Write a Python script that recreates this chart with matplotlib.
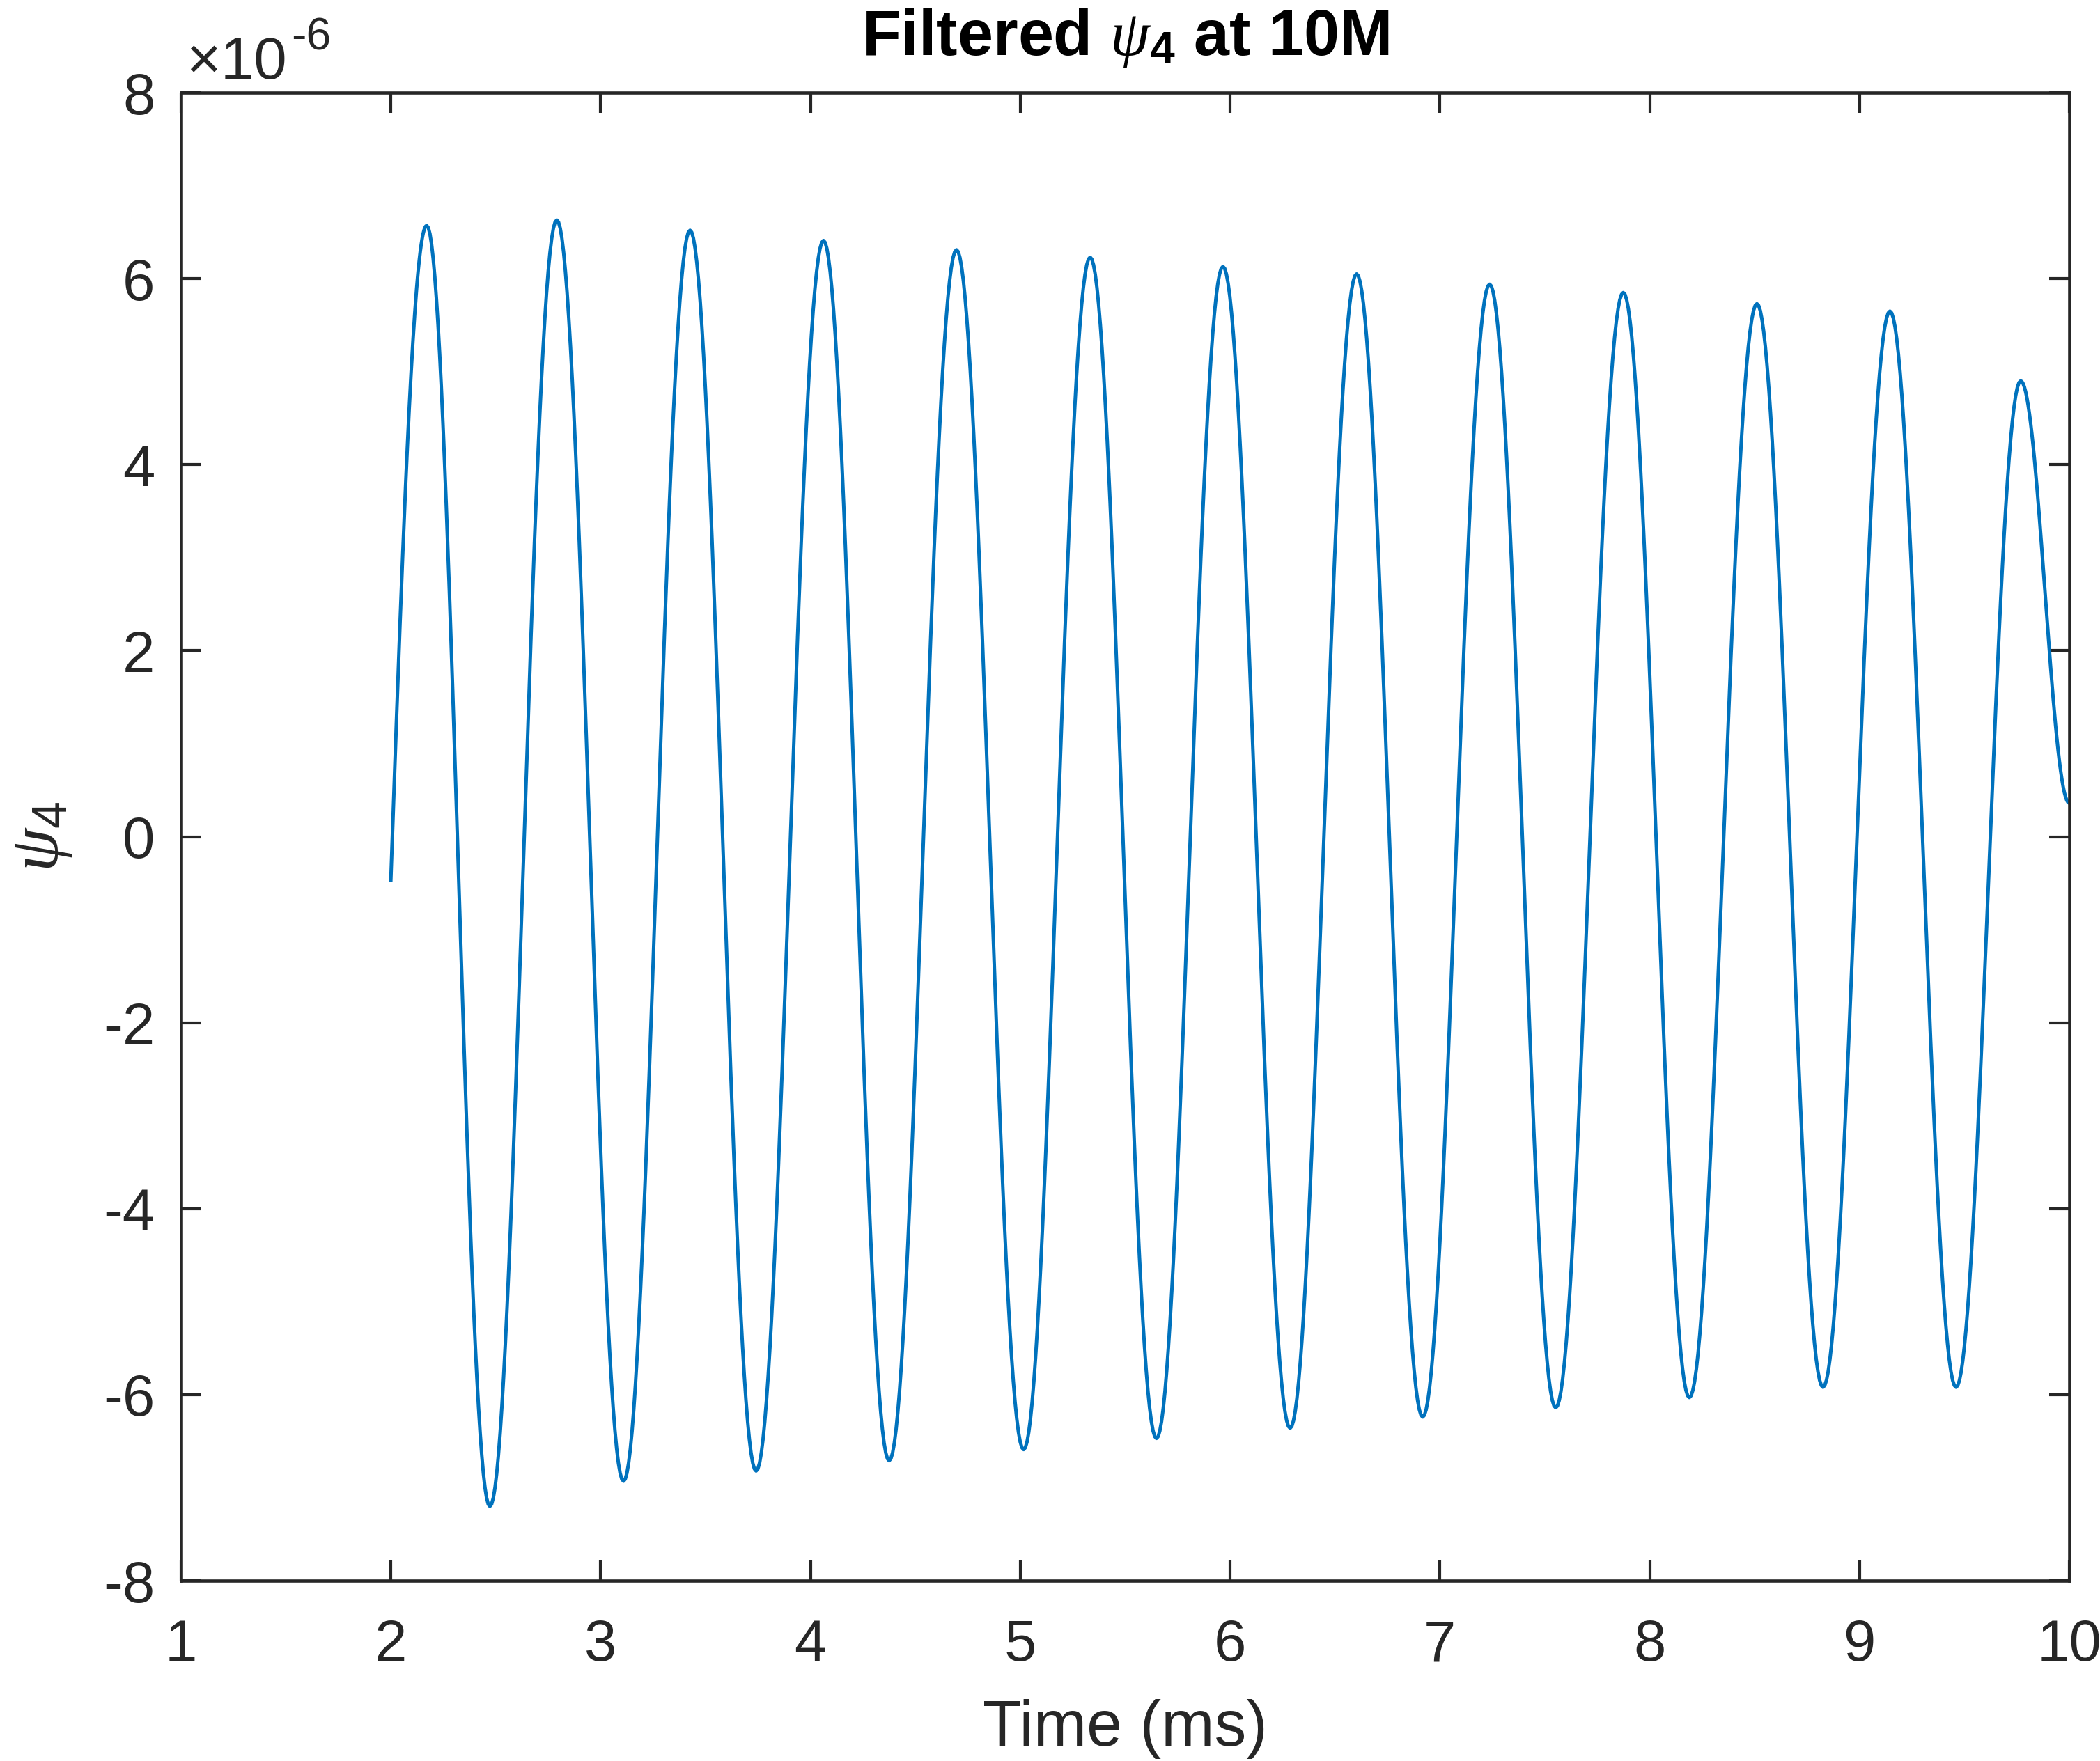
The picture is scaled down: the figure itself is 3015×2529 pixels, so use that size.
import numpy as np
import matplotlib
matplotlib.use("Agg")
import matplotlib.pyplot as plt

# values, psi in units of 1e-6
t_start, psi_start = 2.0, -0.47
t_end, psi_end = 10.0, 0.36
ext_t = [2.171, 2.472, 2.791, 3.109, 3.426, 3.741, 4.062, 4.375, 4.696,
         5.016, 5.333, 5.649, 5.966, 6.286, 6.603, 6.918, 7.237, 7.552,
         7.874, 8.189, 8.511, 8.826, 9.145, 9.460, 9.768]
ext_psi = [6.57, -7.20, 6.63, -6.93, 6.52, -6.82, 6.41, -6.71, 6.31,
           -6.59, 6.23, -6.47, 6.13, -6.36, 6.05, -6.24, 5.94, -6.14,
           5.85, -6.03, 5.73, -5.92, 5.65, -5.92, 4.90]
x_ticks = [1, 2, 3, 4, 5, 6, 7, 8, 9, 10]
y_ticks = [-8, -6, -4, -2, 0, 2, 4, 6, 8]

plt.rcParams['font.family'] = ['Liberation Sans', 'DejaVu Sans']
plt.rcParams['axes.unicode_minus'] = False
plt.rcParams['mathtext.fontset'] = 'custom'
plt.rcParams['mathtext.rm'] = 'Liberation Sans'
plt.rcParams['mathtext.it'] = 'Liberation Serif:italic'
plt.rcParams['mathtext.bf'] = 'Liberation Sans:bold'

GRAY = '#262626'


def build_curve(n=40):
    # smooth shape through the extrema
    t = []
    y = []
    # rising edge from the first sample to the first peak
    s = np.linspace(0, 1, n)
    t.append(t_start + (ext_t[0] - t_start) * s)
    y.append(psi_start + (ext_psi[0] - psi_start) * np.sin(np.pi / 2 * s))
    knots_t = ext_t + [t_end]
    knots_y = ext_psi + [psi_end]
    for i in range(len(knots_t) - 1):
        a, b = knots_y[i], knots_y[i + 1]
        s = np.linspace(0, 1, n)[1:]
        t.append(knots_t[i] + (knots_t[i + 1] - knots_t[i]) * s)
        y.append((a + b) / 2 + (a - b) / 2 * np.cos(np.pi * s))
    return np.concatenate(t), np.concatenate(y)


def main():
    fig = plt.figure(figsize=(10.05, 8.43), dpi=300)
    ax = fig.add_axes([0.0862, 0.1024, 0.8992, 0.8450])

    t, psi = build_curve()
    ax.plot(t, psi, color='#0072BD', lw=1.2)

    ax.set_xlim(1, 10)
    ax.set_ylim(-8, 8)
    ax.set_xticks(x_ticks)
    ax.set_yticks(y_ticks)
    ax.tick_params(direction='in', length=7, width=1, top=True, right=True,
                   colors=GRAY, labelsize=20)
    ax.tick_params(axis='x', pad=13)
    ax.tick_params(axis='y', pad=9)
    for sp in ax.spines.values():
        sp.set_color(GRAY)
        sp.set_linewidth(1.1)

    ax.set_xlabel('Time (ms)', fontsize=22, color=GRAY, labelpad=9)
    ax.set_ylabel(r'$\psi_{\mathrm{4}}$', fontsize=24, color=GRAY, labelpad=10)
    ax.set_title(r'Filtered $\psi_{\mathbf{4}}$ at 10M', fontsize=22,
                 fontweight='bold', color='black', pad=13)

    # exponent label like MATLAB
    ax.text(0.0025, 1.0094, '\u00d710', transform=ax.transAxes, fontsize=20.5,
            color=GRAY, ha='left', va='baseline')
    ax.text(0.0583, 1.0287, '-6', transform=ax.transAxes, fontsize=15.5,
            color=GRAY, ha='left', va='baseline')

    fig.savefig('out.png', dpi=300)


if __name__ == '__main__':
    main()
